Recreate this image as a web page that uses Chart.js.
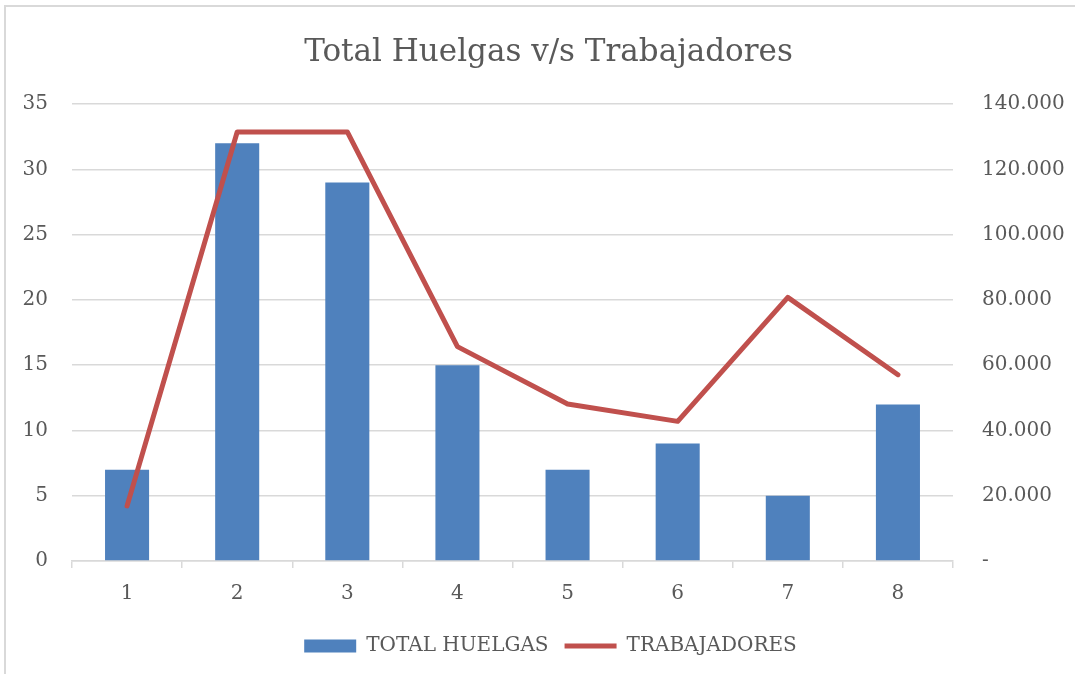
<!DOCTYPE html>
<html>
<head>
<meta charset="utf-8">
<script src="https://cdn.jsdelivr.net/npm/chart.js@4/dist/chart.umd.min.js"></script>
<style>
  html, body { margin: 0; padding: 0; background: #fff; overflow: hidden; }
  #frame { position: absolute; left: 4px; top: 5px; width: 1100px; height: 700px; border: 2px solid #d9d9d9; }
  #wrap { position: absolute; left: 0; top: 0; width: 1075px; height: 674px; }
  #chart { display: block; width: 1075px; height: 674px; }
</style>
</head>
<body>
<div id="frame"></div>
<div id="wrap"><canvas id="chart" width="1075" height="674"></canvas></div>
<script>
const categories = ['1', '2', '3', '4', '5', '6', '7', '8'];
const totalHuelgas = [7, 32, 29, 15, 7, 9, 5, 12];
const trabajadores = [16900, 131500, 131500, 65700, 48100, 42800, 80800, 57100];

const FONT = '"DejaVu Serif", serif';
const GREY = '#595959';
const GRID = '#d9d9d9';

function miles(v) {
    if (v === 0) return '-';
    return String(v).replace(/\B(?=(\d{3})+(?!\d))/g, '.');
}

// title and legend sit a bit right of the canvas centre in the original
const nudge = {
    id: 'nudge',
    afterLayout(chart) {
        chart.titleBlock.left += 22;
        chart.legend.left += 26;
    }
};

const ctx = document.getElementById('chart').getContext('2d');
const chart = new Chart(ctx, {
    data: {
        labels: categories,
        datasets: [{
            type: 'line',
            label: 'TRABAJADORES',
            data: trabajadores,
            yAxisID: 'y2',
            borderColor: '#C0504D',
            backgroundColor: '#C0504D',
            borderWidth: 5,
            borderCapStyle: 'round',
            borderJoinStyle: 'round',
            pointRadius: 0,
            pointStyle: 'line',
            tension: 0,
            order: 0
        },
        {
            type: 'bar',
            label: 'TOTAL HUELGAS',
            data: totalHuelgas,
            yAxisID: 'y',
            backgroundColor: '#4F81BD',
            borderColor: '#4F81BD',
            borderWidth: 0,
            barPercentage: 0.4,
            categoryPercentage: 1,
            pointStyle: 'rect',
            order: 1
        }]
    },
    options: {
        responsive: false,
        animation: false,
        devicePixelRatio: 1,
        layout: { padding: { left: 0, right: 0, top: 0, bottom: 8 } },
        scales: {
            x: {
                offset: true,
                grid: { offset: true, drawOnChartArea: false, tickLength: 7, color: GRID, lineWidth: 1.5 },
                border: { color: GRID, width: 1.5 },
                ticks: { color: GREY, font: { family: FONT, size: 20 }, padding: 14, maxRotation: 0 }
            },
            y: {
                position: 'left',
                min: 0,
                max: 35,
                grid: { color: GRID, lineWidth: 1.5, drawTicks: false },
                border: { display: false },
                ticks: { stepSize: 5, color: GREY, font: { family: FONT, size: 20 }, padding: 24 },
                afterFit: function(scale) { scale.width = 72; }
            },
            y2: {
                position: 'right',
                min: 0,
                max: 140000,
                grid: { drawOnChartArea: false, drawTicks: false },
                border: { display: false },
                ticks: { stepSize: 20000, color: GREY, font: { family: FONT, size: 20 }, padding: 29,
                    callback: function(value) { return miles(value); } },
                afterFit: function(scale) { scale.width = 1075 - 953; }
            }
        },
        plugins: {
            title: {
                display: true,
                text: 'Total Huelgas v/s Trabajadores',
                color: GREY,
                font: { family: FONT, size: 31, weight: 'normal' },
                padding: { top: 34, bottom: 33 }
            },
            legend: {
                position: 'bottom',
                reverse: true,
                labels: {
                    usePointStyle: true,
                    pointStyleWidth: 52,
                    boxHeight: 13,
                    color: GREY,
                    font: { family: FONT, size: 20 },
                    padding: 16
                }
            },
            tooltip: { enabled: false }
        }
    },
    plugins: [nudge]
});
</script>
</body>
</html>
